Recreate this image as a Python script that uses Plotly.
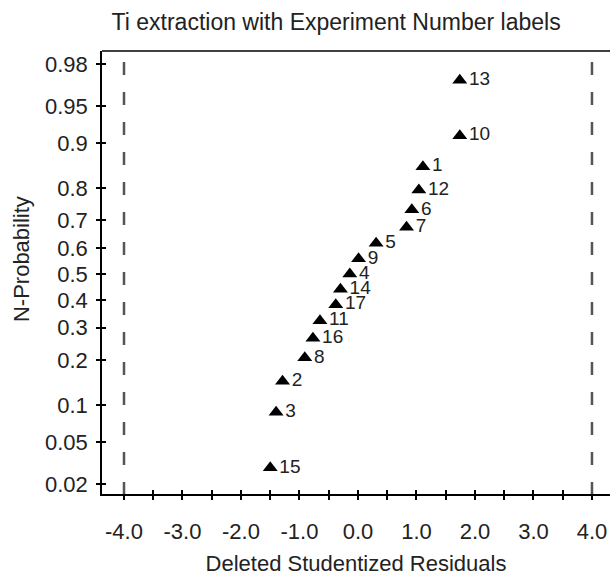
from statistics import NormalDist
import plotly.graph_objects as go

# Data
run_labels = ["15", "3", "2", "8", "16", "11", "17", "14", "4", "9", "5", "7", "6", "12", "1", "10", "13"]
residuals = [-1.50, -1.40, -1.29, -0.91, -0.77, -0.65, -0.38, -0.30, -0.14, 0.01, 0.31, 0.83, 0.92, 1.04, 1.11, 1.74, 1.74]
n_prob = [0.029, 0.088, 0.147, 0.206, 0.265, 0.324, 0.382, 0.441, 0.500, 0.559, 0.618, 0.676, 0.735, 0.794, 0.853, 0.912, 0.971]
prob_ticks = [0.02, 0.05, 0.1, 0.2, 0.3, 0.4, 0.5, 0.6, 0.7, 0.8, 0.9, 0.95, 0.98]
prob_tick_text = ["0.02", "0.05", "0.1", "0.2", "0.3", "0.4", "0.5", "0.6", "0.7", "0.8", "0.9", "0.95", "0.98"]
x_ticks = [-4, -3, -2, -1, 0, 1, 2, 3, 4]
x_tick_text = ["-4.0", "-3.0", "-2.0", "-1.0", "0.0", "1.0", "2.0", "3.0", "4.0"]
limit = 4.0

nd = NormalDist()
def probit(p):
    return nd.inv_cdf(p)

FONT = "Arial, Liberation Sans, sans-serif"
TXT = "#222222"

fig = go.Figure()
fig.add_trace(go.Scatter(
    x=residuals, y=[probit(p) for p in n_prob],
    mode="markers+text", text=run_labels, textposition="middle right",
    textfont=dict(family=FONT, size=19, color=TXT),
    marker=dict(symbol="triangle-up", size=13, color="black"),
    showlegend=False, hoverinfo="skip"))

xr = [-4.376, 4.308]
yr = [-2.152, 2.181]

for xv in (-limit, limit):
    fig.add_shape(type="line", xref="x", yref="y", x0=xv, x1=xv, y0=2.074, y1=yr[0],
                  line=dict(color="#555555", width=2.5, dash="13px,17px"))

fig.update_layout(
    width=610, height=576,
    margin=dict(l=102, r=0, t=51, b=80),
    plot_bgcolor="white", paper_bgcolor="white",
    title=dict(text="Ti extraction with Experiment Number labels", x=0.551, xanchor="center",
               xref="container", y=0.962, yanchor="middle", font=dict(family=FONT, size=23, color=TXT)),
    xaxis=dict(range=xr, tickvals=x_ticks, ticktext=x_tick_text, ticks="outside", ticklen=4,
               tickwidth=1.5, tickcolor="black", showline=True, linecolor="black", linewidth=1.5,
               mirror=False, showgrid=False, zeroline=False, ticklabelstandoff=13,
               minor=dict(dtick=0.5, tick0=0, ticks="outside", ticklen=4, tickwidth=1.5, tickcolor="black"),
               tickfont=dict(family=FONT, size=22, color=TXT),
               title=dict(text="Deleted Studentized Residuals", standoff=16,
                          font=dict(family=FONT, size=22, color=TXT))),
    yaxis=dict(range=yr, tickvals=[probit(p) for p in prob_ticks], ticktext=prob_tick_text,
               ticks="outside", ticklen=4, tickwidth=1.5, tickcolor="black", showline=True,
               linecolor="black", linewidth=1.5, showgrid=False, zeroline=False, ticklabelstandoff=4,
               tickfont=dict(family=FONT, size=22, color=TXT)),
    xaxis2=dict(range=xr, overlaying="x", anchor="y", side="bottom", tickvals=x_ticks,
                showticklabels=False, ticks="inside", ticklen=4, tickwidth=1.5, tickcolor="black",
                minor=dict(dtick=0.5, tick0=0, ticks="inside", ticklen=4, tickwidth=1.5, tickcolor="black"),
                showgrid=False, zeroline=False, showline=False),
    yaxis2=dict(range=yr, overlaying="y", anchor="x", side="left",
                tickvals=[probit(p) for p in prob_ticks], showticklabels=False, ticks="inside",
                ticklen=4, tickwidth=1.5, tickcolor="black", showgrid=False, zeroline=False, showline=False),
)
# y-axis title as annotation (placed slightly above centre, as in the reference)
fig.add_annotation(text="N-Probability", textangle=-90, xref="paper", yref="paper",
                   x=(21 - 102) / 508, y=(496 - 260) / 445, xanchor="center", yanchor="middle",
                   showarrow=False, font=dict(family=FONT, size=22, color=TXT))
# top border line
fig.add_shape(type="line", xref="paper", yref="paper", x0=0, x1=1, y0=1, y1=1,
              line=dict(color="black", width=1.5))
# dummy trace to activate secondary axes
fig.add_trace(go.Scatter(x=[None], y=[None], xaxis="x2", yaxis="y2", showlegend=False, hoverinfo="skip"))

fig.write_html("out.html")
